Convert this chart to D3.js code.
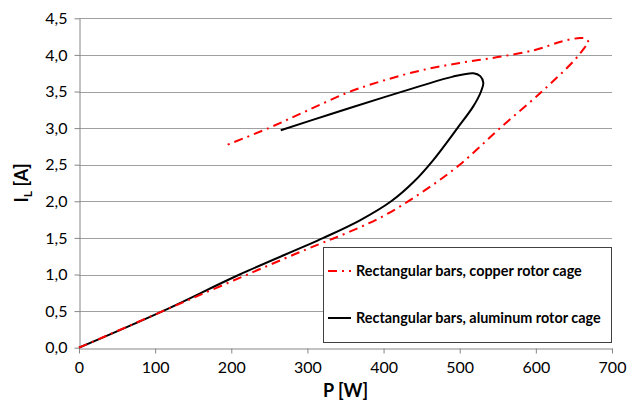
<!DOCTYPE html>
<html>
<head>
<meta charset="utf-8">
<script src="https://cdn.jsdelivr.net/npm/d3@7"></script>
<style>
  html, body { margin: 0; padding: 0; background: #fff; }
  svg { display: block; }
  text { font-family: Lato, "Open Sans", sans-serif; }
</style>
</head>
<body>
<svg id="chart" width="627" height="408"></svg>
<script>
// Line current vs. power for two rotor cage variants
const copperP = [0, 150, 300, 350, 400, 450, 500, 553, 608, 650, 664, 669, 666, 658, 636, 600, 550, 500, 450, 400, 354, 300, 249, 192];
const copperI = [0, 0.68, 1.35, 1.56, 1.80, 2.12, 2.5, 3.0, 3.5, 3.92, 4.1, 4.17, 4.22, 4.23, 4.19, 4.07, 3.97, 3.89, 3.79, 3.65, 3.49, 3.24, 3.0, 2.76];

const aluminumP = [0, 110, 211, 321, 369, 410, 440, 465, 497, 518, 528, 531, 527, 518, 490, 450, 400, 330, 265];
const aluminumI = [0, 0.5, 1.0, 1.5, 1.74, 2.0, 2.27, 2.56, 3.0, 3.3, 3.5, 3.62, 3.71, 3.75, 3.70, 3.58, 3.42, 3.19, 2.97];

const xTicks = [0, 100, 200, 300, 400, 500, 600, 700];
const yTicks = [0, 0.5, 1.0, 1.5, 2.0, 2.5, 3.0, 3.5, 4.0, 4.5];

const seriesNames = ["Rectangular bars, copper rotor cage", "Rectangular bars, aluminum rotor cage"];

const svg = d3.select("#chart");
const plotLeft = 79, plotRight = 612, plotTop = 18.3, plotBottom = 347.7;

const x = d3.scaleLinear().domain([0, 700]).range([plotLeft, plotRight]);
const y = d3.scaleLinear().domain([0, 4.5]).range([plotBottom, plotTop]);

const fmt = v => d3.format(".1f")(v).replace(".", ",");

// horizontal gridlines
svg.append("g")
  .selectAll("line")
  .data(yTicks.filter(d => d > 0))
  .join("line")
  .attr("x1", plotLeft).attr("x2", plotRight)
  .attr("y1", d => Math.round(y(d)) + 0.5).attr("y2", d => Math.round(y(d)) + 0.5)
  .attr("stroke", "#a0a0a0").attr("stroke-width", 1);

// axes
const xAxis = svg.append("g")
  .attr("transform", `translate(0,${Math.round(plotBottom) + 0.5})`)
  .call(d3.axisBottom(x).tickValues(xTicks).tickSize(5).tickSizeOuter(0).tickPadding(8).tickFormat(d3.format("d")));
const yAxis = svg.append("g")
  .attr("transform", `translate(${plotLeft + 0.5},0)`)
  .call(d3.axisLeft(y).tickValues(yTicks).tickSize(5).tickSizeOuter(0).tickPadding(7).tickFormat(fmt));

[xAxis, yAxis].forEach(g => {
  g.select(".domain").attr("stroke", "#868686");
  g.selectAll(".tick line").attr("stroke", "#868686");
  g.selectAll(".tick text").attr("fill", "#000").style("font-size", "16px").style("font-family", "Lato, sans-serif");
});

// curves
const line = d3.line()
  .x(d => x(d[0]))
  .y(d => y(d[1]))
  .curve(d3.curveCatmullRom.alpha(0.5));

const copper = copperP.map((p, i) => [p, copperI[i]]);
const aluminum = aluminumP.map((p, i) => [p, aluminumI[i]]);

svg.append("path")
  .datum(aluminum)
  .attr("d", line)
  .attr("fill", "none")
  .attr("stroke", "#000")
  .attr("stroke-width", 2);

svg.append("path")
  .datum(copper)
  .attr("d", line)
  .attr("fill", "none")
  .attr("stroke", "#ff0000")
  .attr("stroke-width", 2)
  .attr("stroke-dasharray", "9,5,2,5");

// axis titles
svg.append("text")
  .attr("x", (plotLeft + plotRight) / 2).attr("y", 397)
  .attr("text-anchor", "middle")
  .style("font-size", "18px").style("font-weight", "bold")
  .text("P [W]");

const yTitle = svg.append("text")
  .attr("transform", `translate(28,${(plotTop + plotBottom) / 2}) rotate(-90)`)
  .attr("text-anchor", "middle")
  .style("font-size", "18px").style("font-weight", "bold");
yTitle.append("tspan").text("I");
yTitle.append("tspan").attr("dy", 4).style("font-size", "12px").text("L");
yTitle.append("tspan").attr("dy", -4).text(" [A]");

// legend
const legend = svg.append("g");
legend.append("rect")
  .attr("x", 323.5).attr("y", 247.5)
  .attr("width", 288).attr("height", 95)
  .attr("fill", "#fff").attr("stroke", "#404040").attr("stroke-width", 1);

const legendRows = [
  { name: seriesNames[0], color: "#ff0000", dash: "9,5,2,5", cy: 271 },
  { name: seriesNames[1], color: "#000", dash: null, cy: 318 }
];
legendRows.forEach(r => {
  legend.append("line")
    .attr("x1", 328).attr("x2", 351)
    .attr("y1", r.cy).attr("y2", r.cy)
    .attr("stroke", r.color).attr("stroke-width", 2)
    .attr("stroke-dasharray", r.dash);
  legend.append("text")
    .attr("x", 356).attr("y", r.cy)
    .attr("dy", "0.35em")
    .style("font-size", "14.4px").style("font-weight", "bold")
    .text(r.name);
});
</script>
</body>
</html>
